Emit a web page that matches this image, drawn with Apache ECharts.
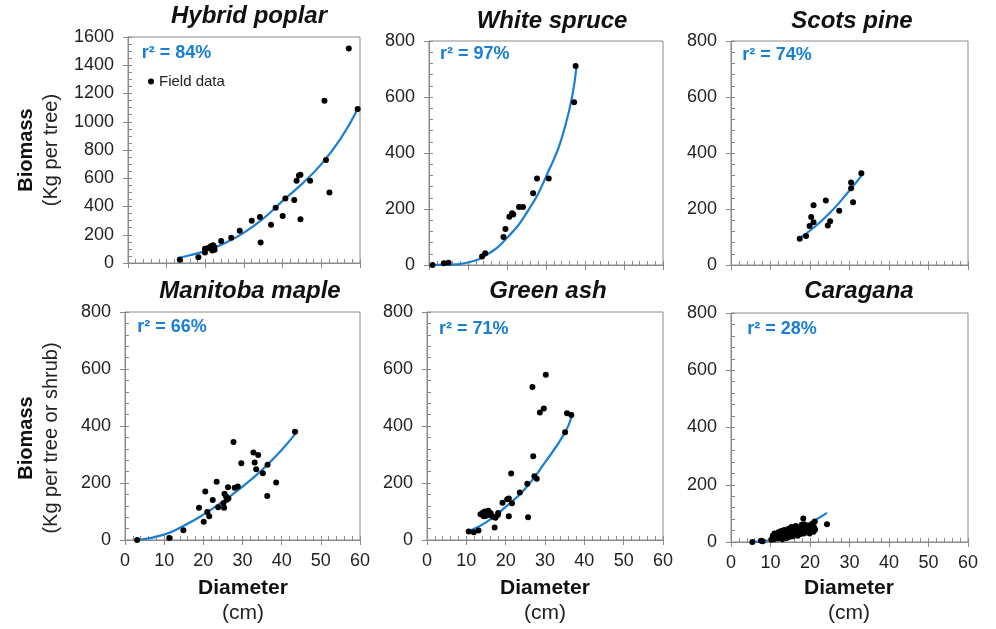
<!DOCTYPE html>
<html>
<head>
<meta charset="utf-8">
<script src="https://cdn.jsdelivr.net/npm/echarts@6/dist/echarts.min.js"></script>
<style>
  html, body { margin: 0; padding: 0; background: #fff; }
  #chart { width: 996px; height: 629px; }
</style>
</head>
<body>
<div id="chart"></div>
<script>
// 各树种实测数据（直径 cm，生物量 kg）与拟合曲线读数
const speciesNames = ['Hybrid poplar', 'White spruce', 'Scots pine', 'Manitoba maple', 'Green ash', 'Caragana'];
const r2Labels = ['84%', '97%', '74%', '66%', '71%', '28%'];
const xTicks = [0, 10, 20, 30, 40, 50, 60];

const poplarDiam = [13.4, 18.2, 19.9, 19.9, 20.7, 21.4, 21.8, 22.0, 22.4, 22.3, 24.1, 26.7, 28.9, 32.0, 34.1, 34.3, 37.0, 38.2, 40.0, 40.7, 43.0, 43.6, 44.2, 44.6, 44.6, 47.1, 50.8, 51.2, 52.1, 57.1, 59.4];
const poplarMass = [23, 40, 75, 101, 106, 118, 89, 125, 94, 113, 156, 179, 229, 300, 325, 146, 271, 391, 333, 457, 446, 583, 620, 625, 309, 583, 1149, 729, 500, 1519, 1090];
const poplarFitDiam = [12.8, 16, 20, 25, 30, 35, 40, 45, 50, 55, 59.4];
const poplarFitMass = [35, 55, 85, 140, 215, 315, 440, 560, 700, 880, 1090];

const spruceDiam = [0.9, 3.8, 5.0, 13.6, 14.4, 19.1, 19.6, 20.6, 21.3, 21.6, 23.1, 24.1, 26.7, 27.7, 30.7, 37.2, 37.6];
const spruceMass = [0, 6, 8, 30, 42, 100, 129, 172, 185, 180, 207, 207, 256, 309, 309, 581, 711];
const spruceFitDiam = [1, 5, 10, 15, 20, 25, 30, 35, 37.8];
const spruceFitMass = [0, 1, 9, 38, 97, 185, 315, 500, 705];

const pineDiam = [17.4, 19.0, 19.9, 20.3, 20.9, 20.9, 24.0, 24.5, 25.1, 27.4, 30.4, 30.4, 30.9, 33.0];
const pineMass = [94, 104, 139, 171, 153, 213, 230, 141, 156, 194, 295, 274, 224, 328];
const pineFitDiam = [17.1, 21, 25, 29, 33.1];
const pineFitMass = [94, 134, 186, 249, 320];

const mapleDiam = [3.1, 11.3, 14.9, 18.9, 20.1, 20.5, 21.0, 21.5, 22.4, 23.4, 23.8, 25.1, 25.3, 25.4, 25.8, 26.0, 26.3, 26.4, 27.7, 28.0, 28.8, 29.7, 32.8, 33.1, 33.5, 34.0, 35.2, 36.3, 36.4, 38.6, 43.4];
const mapleMass = [0, 7, 34, 113, 64, 170, 98, 83, 140, 204, 115, 129, 113, 162, 153, 141, 185, 146, 344, 183, 188, 269, 307, 272, 248, 298, 234, 154, 264, 202, 380];
const mapleFitDiam = [3.2, 10, 15, 20, 25, 30, 35, 40, 44.1];
const mapleFitMass = [0, 19, 50, 89, 135, 187, 246, 316, 384];

const ashDiam = [10.6, 11.9, 13.1, 13.6, 14.2, 14.4, 14.7, 14.9, 15.3, 15.6, 15.8, 16.2, 16.8, 17.2, 17.4, 18.0, 18.1, 19.2, 20.4, 20.8, 20.8, 21.4, 21.6, 23.6, 25.5, 25.7, 26.8, 27.0, 27.3, 27.9, 28.7, 29.7, 30.2, 35.1, 35.6, 36.7];
const ashMass = [30, 27, 33, 90, 96, 83, 100, 84, 90, 103, 88, 94, 82, 44, 78, 88, 95, 131, 143, 83, 146, 233, 129, 167, 197, 80, 537, 294, 224, 215, 447, 461, 580, 378, 445, 439];
const ashFitDiam = [10.8, 15, 20, 25, 30, 35, 36.8];
const ashFitMass = [32, 62, 116, 181, 272, 375, 434];

const caraganaDiam = [5.4, 7.6, 8.0, 10.2, 10.5, 10.6, 10.9, 11.0, 11.3, 11.5, 11.8, 12.0, 12.1, 12.4, 12.5, 12.7, 12.9, 13.0, 13.2, 13.3, 13.5, 13.6, 13.8, 14.0, 14.1, 14.3, 14.4, 14.6, 14.7, 14.9, 15.0, 15.2, 15.3, 15.5, 15.6, 15.8, 16.0, 16.1, 16.3, 16.4, 16.6, 16.8, 16.9, 17.1, 17.2, 17.4, 17.6, 17.7, 17.9, 18.0, 18.2, 18.3, 18.4, 18.5, 18.7, 18.9, 19.0, 19.2, 19.4, 19.5, 19.7, 19.9, 20.0, 20.2, 20.4, 20.6, 20.7, 20.9, 21.0, 21.2, 21.3, 24.3];
const caraganaMass = [0, 4, 3, 8, 14, 22, 10, 30, 18, 26, 12, 34, 22, 16, 28, 38, 20, 10, 30, 24, 42, 18, 34, 28, 14, 38, 22, 46, 30, 18, 36, 26, 52, 40, 20, 32, 44, 26, 38, 56, 30, 48, 22, 40, 34, 52, 28, 44, 60, 36, 48, 82, 30, 62, 42, 54, 34, 46, 58, 38, 50, 30, 44, 56, 40, 64, 48, 36, 52, 72, 44, 62];
const caraganaFitDiam = [5.5, 8, 10.3, 12, 15, 18, 21, 24.3];
const caraganaFitMass = [0, 3, 8, 15, 30, 52, 74, 102];

const fieldSets = [
  [poplarDiam, poplarMass, poplarFitDiam, poplarFitMass],
  [spruceDiam, spruceMass, spruceFitDiam, spruceFitMass],
  [pineDiam, pineMass, pineFitDiam, pineFitMass],
  [mapleDiam, mapleMass, mapleFitDiam, mapleFitMass],
  [ashDiam, ashMass, ashFitDiam, ashFitMass],
  [caraganaDiam, caraganaMass, caraganaFitDiam, caraganaFitMass]
];

// 版式
const FONT = '"Liberation Sans", Arial, sans-serif';
const axisGray = '#8a8a8a';
const textColor = '#222';
const blue = '#1a7fd4';
const gridBoxes = [
  { left: 128, top: 37, width: 232, height: 226 },
  { left: 429, top: 41, width: 234, height: 224 },
  { left: 731, top: 41, width: 237, height: 224 },
  { left: 125, top: 312, width: 235, height: 228 },
  { left: 427, top: 312, width: 236, height: 228 },
  { left: 731, top: 313, width: 237, height: 229 }
];
const yMaxes = [1600, 800, 800, 800, 800, 800];
const titlePos = [[249, 16.6], [552, 21], [852, 21], [250, 291.6], [548, 291.6], [859, 291.6]];
const r2Pos = [[141.7, 52.7], [440, 53.7], [742.3, 55.4], [137.3, 327], [439, 328.7], [747.3, 328.7]];

const grid = [], xAxis = [], yAxis = [], series = [], graphic = [];

gridBoxes.forEach((g, i) => {
  const bottomRow = i >= 3;
  grid.push(Object.assign({ show: true, borderColor: axisGray, borderWidth: 1, backgroundColor: 'transparent' }, g));

  // 主轴：刻度朝外 + 标签
  xAxis.push({
    gridIndex: i, type: 'value', position: 'bottom', min: 0, max: 60, interval: 10,
    axisLine: { show: true, lineStyle: { color: axisGray, width: 1 } },
    axisTick: { show: true, length: 5, lineStyle: { color: axisGray } },
    axisLabel: { show: bottomRow, fontSize: 18, color: textColor, margin: 12, fontFamily: FONT,
                 formatter: v => xTicks.includes(v) ? String(v) : '' },
    splitLine: { show: false }
  });
  // 辅助轴：刻度朝内 + 次刻度
  xAxis.push({
    gridIndex: i, type: 'value', position: 'bottom', min: 0, max: 60, interval: 10,
    axisLine: { show: false },
    axisTick: { show: true, inside: true, length: 4, lineStyle: { color: axisGray } },
    minorTick: { show: true, splitNumber: 5, length: 4, lineStyle: { color: axisGray } },
    axisLabel: { show: false }, splitLine: { show: false }
  });
  yAxis.push({
    gridIndex: i, type: 'value', position: 'left', min: 0, max: yMaxes[i], interval: 200,
    axisLine: { show: true, lineStyle: { color: axisGray, width: 1 } },
    axisTick: { show: true, length: 5, lineStyle: { color: axisGray } },
    axisLabel: { show: true, fontSize: 18, color: textColor, margin: 14, fontFamily: FONT,
                 formatter: v => String(v) },
    splitLine: { show: false }
  });
  yAxis.push({
    gridIndex: i, type: 'value', position: 'left', min: 0, max: yMaxes[i], interval: 200,
    axisLine: { show: false },
    axisTick: { show: true, inside: true, length: 4, lineStyle: { color: axisGray } },
    minorTick: { show: true, splitNumber: yMaxes[i] === 1600 ? 4 : 5, length: 4, lineStyle: { color: axisGray } },
    axisLabel: { show: false }, splitLine: { show: false }
  });

  const [dx, dy, fx, fy] = fieldSets[i];
  series.push({
    name: 'Field data', type: 'scatter', xAxisIndex: 2 * i, yAxisIndex: 2 * i,
    symbol: 'circle', symbolSize: 6, itemStyle: { color: '#000', opacity: 1 },
    data: dx.map((d, k) => [d, dy[k]]), z: 3
  });
  series.push({
    name: speciesNames[i] + ' fit', type: 'line', xAxisIndex: 2 * i, yAxisIndex: 2 * i,
    smooth: true, showSymbol: false, lineStyle: { color: blue, width: 2.2 },
    data: fx.map((d, k) => [d, fy[k]]), z: 2
  });

  graphic.push({
    type: 'text', x: titlePos[i][0], y: titlePos[i][1],
    style: { text: speciesNames[i], font: 'italic bold 24px ' + FONT, fill: '#111',
             textAlign: 'center', textVerticalAlign: 'middle' }
  });
  graphic.push({
    type: 'text', x: r2Pos[i][0], y: r2Pos[i][1],
    style: { text: 'r\u00B2 = ' + r2Labels[i], font: 'bold 18px ' + FONT, fill: blue,
             textAlign: 'left', textVerticalAlign: 'middle' }
  });
});

// 轴标题
const yNames = [
  ['Biomass', '(Kg per tree)', 150],
  ['Biomass', '(Kg per tree or shrub)', 438]
];
yNames.forEach(([bold, sub, cy]) => {
  graphic.push({ type: 'text', x: 26, y: cy, rotation: Math.PI / 2,
    style: { text: bold, font: 'bold 20px ' + FONT, fill: '#111', textAlign: 'center', textVerticalAlign: 'middle' } });
  graphic.push({ type: 'text', x: 51, y: cy, rotation: Math.PI / 2,
    style: { text: sub, font: '20px ' + FONT, fill: '#222', textAlign: 'center', textVerticalAlign: 'middle' } });
});
[243, 545, 849].forEach(cx => {
  graphic.push({ type: 'text', x: cx, y: 588,
    style: { text: 'Diameter', font: 'bold 21px ' + FONT, fill: '#111', textAlign: 'center', textVerticalAlign: 'middle' } });
  graphic.push({ type: 'text', x: cx, y: 613,
    style: { text: '(cm)', font: '21px ' + FONT, fill: '#222', textAlign: 'center', textVerticalAlign: 'middle' } });
});

const chart = echarts.init(document.getElementById('chart'), null, { renderer: 'canvas' });
chart.setOption({
  animation: false,
  backgroundColor: '#fff',
  textStyle: { fontFamily: FONT },
  grid, xAxis, yAxis, series, graphic,
  legend: {
    data: ['Field data'], left: 143, top: 69, icon: 'circle', itemWidth: 6, itemHeight: 6,
    selectedMode: false, textStyle: { fontSize: 15, color: '#222', fontFamily: FONT }
  }
});
window.addEventListener('resize', () => chart.resize());
</script>
</body>
</html>
